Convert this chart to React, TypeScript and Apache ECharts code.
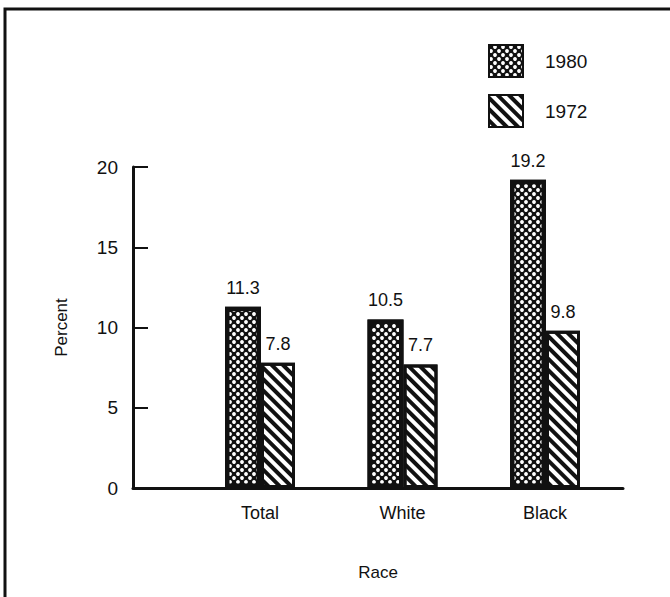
import React, { useEffect, useRef } from "react";
import * as echarts from "echarts";

const categories = ["Total", "White", "Black"];
const values1980 = [11.3, 10.5, 19.2];
const values1972 = [7.8, 7.7, 9.8];
const seriesNames = ["1980", "1972"];
const yMin = 0;
const yMax = 20;
const yInterval = 5;

const FONT = "Liberation Sans";

export default function App() {
  const ref = useRef<HTMLDivElement>(null);
  useEffect(() => {
    if (!ref.current) return;
    const chart = echarts.init(ref.current, undefined, { renderer: "svg" });
    const dotDecal = {
      symbol: "circle",
      symbolSize: 0.95,
      color: "#ffffff",
      backgroundColor: "#111111",
      dashArrayX: [[3.5, 3.5], [0, 3.5, 3.5, 0]],
      dashArrayY: [3.5, 0],
      rotation: 0,
    };
    const hatchDecal = {
      symbol: "rect",
      symbolSize: 1,
      color: "#111111",
      backgroundColor: "#ffffff",
      dashArrayX: [1, 0],
      dashArrayY: [3.5, 4],
      rotation: Math.PI / 4,
    };
    const labelStyle = {
      show: true,
      position: "top" as const,
      distance: 10,
      color: "#111",
      fontFamily: FONT,
      fontSize: 18,
    };
    chart.setOption({
      animation: false,
      backgroundColor: "#ffffff",
      textStyle: { fontFamily: FONT },
      legend: {
        data: seriesNames,
        orient: "vertical",
        left: 483,
        top: 39,
        itemWidth: 34,
        itemHeight: 32,
        itemGap: 16,
        icon: "rect",
        textStyle: { fontSize: 19, color: "#111", fontFamily: FONT, padding: [0, 0, 0, 17] },
      },
      grid: [
        { left: 188.75, right: 53.75, top: 167, bottom: 109 },
        { left: 133, right: 47, top: 167, bottom: 109 },
      ],
      xAxis: [
        {
          type: "category",
          gridIndex: 0,
          data: categories,
          axisLine: { show: false },
          axisTick: { show: false },
          axisLabel: { color: "#111", fontSize: 18, fontFamily: FONT, margin: 16 },
        },
        {
          type: "value",
          gridIndex: 1,
          min: 0,
          max: 1,
          axisLine: { show: true, lineStyle: { color: "#111", width: 3 } },
          axisTick: { show: false },
          axisLabel: { show: false },
          splitLine: { show: false },
          name: "Race",
          nameLocation: "middle",
          nameGap: 76,
          nameTextStyle: { color: "#111", fontSize: 17, fontFamily: FONT },
        },
      ],
      yAxis: [
        {
          type: "value",
          gridIndex: 0,
          min: yMin,
          max: yMax,
          interval: yInterval,
          show: false,
        },
        {
          type: "value",
          gridIndex: 1,
          min: yMin,
          max: yMax,
          interval: yInterval,
          axisLine: { show: true, lineStyle: { color: "#111", width: 3 } },
          axisTick: { show: true, inside: true, length: 15, lineStyle: { color: "#111", width: 2 } },
          axisLabel: { color: "#111", fontSize: 19, fontFamily: FONT, margin: 15 },
          splitLine: { show: false },
          name: "Percent",
          nameLocation: "middle",
          nameGap: 63,
          nameRotate: 90,
          nameTextStyle: { color: "#111", fontSize: 17, fontFamily: FONT },
        },
      ],
      series: [
        {
          name: seriesNames[0],
          type: "bar",
          xAxisIndex: 0,
          yAxisIndex: 0,
          data: values1980,
          barWidth: 36,
          barGap: "0%",
          itemStyle: { color: "#111", decal: dotDecal, borderColor: "#111", borderWidth: 4.5 },
          label: labelStyle,
        },
        {
          name: seriesNames[1],
          type: "bar",
          xAxisIndex: 0,
          yAxisIndex: 0,
          data: values1972,
          barWidth: 34,
          barGap: "0%",
          itemStyle: { color: "#fff", decal: hatchDecal, borderColor: "#111", borderWidth: 3 },
          label: labelStyle,
        },
      ],
      graphic: [
        {
          type: "polyline",
          shape: { points: [[5, 597], [5, 9], [670, 9]] },
          style: { stroke: "#111", lineWidth: 3, fill: "none" },
          silent: true,
        },
      ],
    });
    return () => chart.dispose();
  }, []);
  return (
    <div
      ref={ref}
      style={{ position: "fixed", left: 0, top: 0, width: 670, height: 597 }}
    />
  );
}
